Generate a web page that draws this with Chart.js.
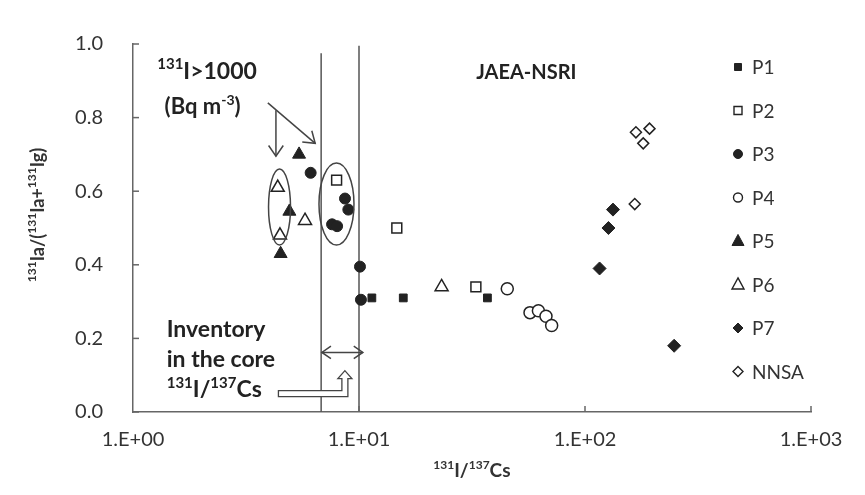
<!DOCTYPE html>
<html>
<head>
<meta charset="utf-8">
<script src="https://cdn.jsdelivr.net/npm/chart.js@4.4.0/dist/chart.umd.min.js"></script>
<style>
  html, body { margin: 0; padding: 0; background: #fff; }
  #wrap { width: 865px; height: 495px; }
</style>
</head>
<body>
<div id="wrap"><canvas id="chart" width="865" height="495"></canvas></div>
<script>
// axis ticks
const xTicks = [1, 10, 100, 1000]
const yTicks = [0, 0.2, 0.4, 0.6, 0.8, 1.0]

// 131I/137Cs (x) and 131Ia/(131Ia+131Ig) (y) per sampling group
const p1X = [11.4, 15.7, 37.0]
const p1Y = [0.31, 0.31, 0.31]
const p2X = [7.96, 14.7, 32.9]
const p2Y = [0.63, 0.50, 0.34]
const p3X = [6.11, 8.67, 8.97, 7.6, 8.0, 10.1, 10.2]
const p3Y = [0.65, 0.58, 0.55, 0.51, 0.505, 0.395, 0.305]
const p4X = [45.3, 57.1, 62.2, 67.2, 71.2]
const p4Y = [0.335, 0.27, 0.275, 0.26, 0.235]
const p5X = [5.43, 4.92, 4.5]
const p5Y = [0.70, 0.545, 0.43]
const p6X = [4.37, 5.77, 4.47, 23.2]
const p6Y = [0.61, 0.52, 0.48, 0.34]
const p7X = [116, 127, 133, 248]
const p7Y = [0.39, 0.50, 0.55, 0.18]
const nnsaX = [168, 193, 181, 166]
const nnsaY = [0.76, 0.77, 0.73, 0.565]

// inventory in the core range of 131I/137Cs (vertical lines)
const coreX = [6.8, 10]
const coreTop = [0.975, 0.995]

const seriesNames = ['P1', 'P2', 'P3', 'P4', 'P5', 'P6', 'P7', 'NNSA']

const INK = '#222'
const LINE = '#555'
const FONT = 'Lato, "Open Sans", sans-serif'

function pts(xs, ys) {
  return xs.map((x, i) => ({ x: x, y: ys[i] }))
}

const styles = {
  P1:   { pointStyle: 'rect',     radius: 5.5, fill: INK,    border: 1 },
  P2:   { pointStyle: 'rect',     radius: 7,   fill: '#fff', border: 1.5 },
  P3:   { pointStyle: 'circle',   radius: 5.5, fill: INK,    border: 1 },
  P4:   { pointStyle: 'circle',   radius: 6,   fill: '#fff', border: 1.5 },
  P5:   { pointStyle: 'triangle', radius: 7.5, fill: INK,    border: 1 },
  P6:   { pointStyle: 'triangle', radius: 7.5, fill: '#fff', border: 1.5 },
  P7:   { pointStyle: 'rectRot',  radius: 6.5, fill: INK,    border: 1 },
  NNSA: { pointStyle: 'rectRot',  radius: 5.5, fill: '#fff', border: 1.5 }
}

const seriesData = {
  P1: pts(p1X, p1Y), P2: pts(p2X, p2Y), P3: pts(p3X, p3Y), P4: pts(p4X, p4Y),
  P5: pts(p5X, p5Y), P6: pts(p6X, p6Y), P7: pts(p7X, p7Y), NNSA: pts(nnsaX, nnsaY)
}

const datasets = seriesNames.map(name => {
  const s = styles[name]
  return {
    label: name,
    data: seriesData[name],
    pointStyle: s.pointStyle,
    pointRadius: s.radius,
    pointHoverRadius: s.radius,
    backgroundColor: s.fill,
    borderColor: INK,
    borderWidth: s.border,
    showLine: false
  }
})

coreX.forEach((x, i) => {
  datasets.push({
    label: 'core' + i,
    type: 'line',
    data: [{ x: x, y: 0 }, { x: x, y: coreTop[i] }],
    borderColor: LINE,
    borderWidth: 1.5,
    pointRadius: 0,
    showLine: true
  })
})

// text with superscript parts: [[text, isSup], ...]
function drawRich(ctx, parts, x, y, size, weight, align) {
  const big = weight + ' ' + size + 'px ' + FONT
  const small = weight + ' ' + Math.round(size * 0.64) + 'px ' + FONT
  let w = 0
  parts.forEach(p => { ctx.font = p[1] ? small : big; w += ctx.measureText(p[0]).width })
  let cx = align === 'center' ? x - w / 2 : x
  ctx.textBaseline = 'alphabetic'
  ctx.textAlign = 'left'
  parts.forEach(p => {
    ctx.font = p[1] ? small : big
    ctx.fillText(p[0], cx, p[1] ? y - size * 0.42 : y)
    cx += ctx.measureText(p[0]).width
  })
}

function arrowHead(ctx, x1, y1, x2, y2, len) {
  const a = Math.atan2(y2 - y1, x2 - x1)
  ctx.beginPath()
  ctx.moveTo(x2 - len * Math.cos(a - 0.6), y2 - len * Math.sin(a - 0.6))
  ctx.lineTo(x2, y2)
  ctx.lineTo(x2 - len * Math.cos(a + 0.6), y2 - len * Math.sin(a + 0.6))
  ctx.stroke()
}

function markerPath(ctx, style, x, y, r) {
  ctx.beginPath()
  if (style === 'rect') {
    ctx.rect(x - r, y - r, 2 * r, 2 * r)
  } else if (style === 'circle') {
    ctx.arc(x, y, r, 0, Math.PI * 2)
  } else if (style === 'triangle') {
    ctx.moveTo(x, y - r * 1.1)
    ctx.lineTo(x + r, y + r * 0.75)
    ctx.lineTo(x - r, y + r * 0.75)
    ctx.closePath()
  } else {
    ctx.moveTo(x, y - r)
    ctx.lineTo(x + r, y)
    ctx.lineTo(x, y + r)
    ctx.lineTo(x - r, y)
    ctx.closePath()
  }
}

const legendSize = { P1: 3.5, P2: 4, P3: 4.5, P4: 4.5, P5: 6, P6: 6, P7: 5, NNSA: 5 }

const annotations = {
  id: 'annotations',
  afterDraw(chart) {
    const ctx = chart.ctx
    const xs = chart.scales.x
    const ys = chart.scales.y
    const area = chart.chartArea
    const px = v => xs.getPixelForValue(v)
    const py = v => ys.getPixelForValue(v)
    ctx.save()

    // inside tick marks
    ctx.strokeStyle = '#666'
    ctx.lineWidth = 1.5
    yTicks.forEach(v => {
      ctx.beginPath(); ctx.moveTo(area.left, py(v)); ctx.lineTo(area.left + 6, py(v)); ctx.stroke()
    })
    xTicks.slice(1).forEach(v => {
      ctx.beginPath(); ctx.moveTo(px(v), area.bottom); ctx.lineTo(px(v), area.bottom - 6); ctx.stroke()
    })

    // axis titles
    ctx.fillStyle = '#333'
    drawRich(ctx, [['131', true], ['I/', false], ['137', true], ['Cs', false]], px(31.6), 477, 19, 'bold', 'center')
    ctx.save()
    ctx.translate(44, 215)
    ctx.rotate(-Math.PI / 2)
    drawRich(ctx, [['131', true], ['Ia/(', false], ['131', true], ['Ia+', false], ['131', true], ['Ig)', false]], 0, 0, 18, 'bold', 'center')
    ctx.restore()

    // annotation text
    ctx.fillStyle = INK
    drawRich(ctx, [['131', true], ['I>1000', false]], px(1.28), py(0.905), 23, 'bold', 'left')
    drawRich(ctx, [['(Bq m', false], ['-3', true], [')', false]], px(1.38), py(0.81), 22, 'bold', 'left')
    drawRich(ctx, [['JAEA-NSRI', false]], px(55), py(0.905), 20, 'bold', 'center')
    drawRich(ctx, [['Inventory', false]], px(1.41), py(0.205), 23, 'bold', 'left')
    drawRich(ctx, [['in the core', false]], px(1.41), py(0.123), 23, 'bold', 'left')
    drawRich(ctx, [['131', true], ['I/', false], ['137', true], ['Cs', false]], px(1.41), py(0.04), 23, 'bold', 'left')

    ctx.strokeStyle = '#444'
    ctx.lineWidth = 1.5
    // arrows from (Bq m-3)
    ctx.beginPath(); ctx.moveTo(px(4.29), py(0.82)); ctx.lineTo(px(4.29), py(0.695)); ctx.stroke()
    arrowHead(ctx, px(4.29), py(0.82), px(4.29), py(0.695), 13)
    ctx.beginPath(); ctx.moveTo(px(3.95), py(0.84)); ctx.lineTo(px(6.4), py(0.73)); ctx.stroke()
    arrowHead(ctx, px(3.95), py(0.84), px(6.4), py(0.73), 13)

    // ellipses around the >1000 Bq points
    ctx.beginPath()
    ctx.ellipse(px(4.45), py(0.557), 11, 38, 0, 0, Math.PI * 2)
    ctx.stroke()
    ctx.beginPath()
    ctx.ellipse(px(7.95), py(0.565), 17.5, 41, 0, 0, Math.PI * 2)
    ctx.stroke()

    // double arrow for core range
    const ay = py(0.162)
    ctx.beginPath(); ctx.moveTo(px(6.85), ay); ctx.lineTo(px(10.4), ay); ctx.stroke()
    arrowHead(ctx, px(10.4), ay, px(6.85), ay, 11)
    arrowHead(ctx, px(6.85), ay, px(10.4), ay, 11)

    // hollow bent arrow
    const bx = px(4.4), sx = px(8.4), sy = py(0.058)
    ctx.lineWidth = 1.3
    ctx.fillStyle = '#fff'
    ctx.beginPath()
    ctx.moveTo(bx, sy)
    ctx.lineTo(sx, sy)
    ctx.lineTo(sx, sy - 12)
    ctx.lineTo(sx - 4, sy - 12)
    ctx.lineTo(sx + 3, sy - 20)
    ctx.lineTo(sx + 10, sy - 12)
    ctx.lineTo(sx + 6, sy - 12)
    ctx.lineTo(sx + 6, sy + 6)
    ctx.lineTo(bx, sy + 6)
    ctx.closePath()
    ctx.fill()
    ctx.stroke()

    // legend
    const lx = 738
    seriesNames.forEach((name, i) => {
      const s = styles[name]
      const ly = 67 + i * 43.5
      markerPath(ctx, s.pointStyle, lx, ly, legendSize[name])
      ctx.fillStyle = s.fill
      ctx.fill()
      ctx.strokeStyle = INK
      ctx.lineWidth = s.fill === '#fff' ? 1.4 : 1
      ctx.stroke()
      ctx.fillStyle = '#333'
      ctx.font = '19px ' + FONT
      ctx.textAlign = 'left'
      ctx.textBaseline = 'middle'
      ctx.fillText(name, lx + 14, ly + 1)
    })

    ctx.restore()
  }
}

const chart = new Chart(document.getElementById('chart'), {
  type: 'scatter',
  data: { datasets: datasets },
  options: {
    responsive: false,
    animation: false,
    events: [],
    layout: { padding: { top: 44, right: 54, left: 0, bottom: 0 } },
    plugins: { legend: { display: false }, tooltip: { enabled: false } },
    scales: {
      x: {
        type: 'logarithmic',
        min: 1,
        max: 1000,
        afterBuildTicks: s => { s.ticks = xTicks.map(v => ({ value: v })) },
        afterFit: s => { s.height = 83 },
        grid: { display: false, drawTicks: false },
        border: { display: true, color: '#666', width: 1.5 },
        ticks: {
          autoSkip: false,
          maxRotation: 0,
          padding: 16,
          color: '#333',
          font: { family: FONT, size: 20 },
          callback: v => '1.E+' + String(Math.round(Math.log10(v))).padStart(2, '0')
        }
      },
      y: {
        min: 0,
        max: 1,
        afterBuildTicks: s => { s.ticks = yTicks.map(v => ({ value: v })) },
        afterFit: s => { s.width = 133 },
        grid: { display: false, drawTicks: false },
        border: { display: true, color: '#666', width: 1.5 },
        ticks: {
          padding: 30,
          color: '#333',
          font: { family: FONT, size: 20 },
          callback: v => v.toFixed(1)
        }
      }
    }
  },
  plugins: [annotations]
})
</script>
</body>
</html>
